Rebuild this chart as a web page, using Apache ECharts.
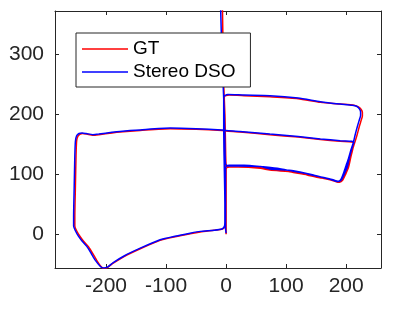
<!DOCTYPE html>
<html><head><meta charset="utf-8">
<script src="https://cdn.jsdelivr.net/npm/echarts@6/dist/echarts.min.js"></script>
<style>html,body{margin:0;padding:0;background:#fff}#c{width:399px;height:315px}</style>
</head><body><div id="c"></div>
<script>
var seriesNames = ['GT', 'Stereo DSO'];
var xTicks = [-200, -100, 0, 100, 200];
var yTicks = [0, 100, 200, 300];
var gtPath = [
[0,0],[0,10],[0,60],[0,108],[1,111],[5,112],[30,112],[57,111],[85,108],[112,103],[135,99],[151,95],[165,93],[176,90],[186,87],[191,88],
[194,92],[198,102],[202,114],[206,126],[210,140],[214,152],[218,165],[222,180],[225,190],[227,197],[227,203],[225,208],[221,212],[213,215],
[190,217],[157,220],[120,226],[73,229],[30,231],[5,232],[0,231],[-3,229],[-3,220],
[-3,200],[-3,175],[-2,110],[-1,50],[-1,20],[-2,13],
[-6,9],[-20,7],[-43,4],[-60,1],[-85,-4],[-110,-10],[-143,-24],[-170,-37],[-188,-48],[-196,-54],[-202,-57],[-207,-55],[-215,-44],[-222,-32],[-229,-21],[-237,-12],[-243,-4],[-249,6],[-252,14],
[-252,30],[-251,80],[-250,130],[-249,155],[-247,163],[-243,167],[-239,168],[-232,167],[-222,165],[-212,166],[-190,169],[-177,170.5],[-143,173],[-93,176],[-50,175],[-7,173],[0,172],[23,170.5],[73,166],[120,162],[157,158],[190,155],[209,154],
[213,152],[212,146],[208,130],[204,112],[199,100],[194,90],[189,87],
[178,90],[160,94],[145,98],[112,104],[73,107],[57,110],[20,112],[3,112],[0,115],
[-1,150],[-2,200],[-4,250],[-5,300],[-6,372],[-7,400]
];
var dsoPath = [
[0,2],[-1,10],[-1,60],[-1,110],[1,114],[5,115],[30,115],[57,113],[85,110],[112,105],[135,101],[151,97],[165,94],[176,91],[185,88],[189,89],
[192,93],[196,103],[200,115],[204,127],[208,141],[212,153],[215,166],[219,181],[222,191],[224,198],[224,204],[222,209],[218,213],[210,215],
[190,217],[157,221],[120,227],[73,231],[30,232],[3,233],[-2,231],[-4,228],[-4,220],
[-4,200],[-4,175],[-3,110],[-2,50],[-2,20],[-3,13],
[-7,9],[-20,7],[-43,5],[-60,2],[-85,-3],[-110,-9],[-143,-23],[-170,-36],[-188,-47],[-197,-54],[-204,-56],[-209,-54],[-218,-43],[-225,-31],[-232,-20],[-240,-11],[-246,-3],[-251,6],[-254,14],
[-254,30],[-253,80],[-252,130],[-251,155],[-249,164],[-245,168],[-240,169],[-233,168],[-222,166],[-212,167],[-190,170],[-177,171.5],[-143,174],[-93,177],[-50,176],[-7,174],[0,173],[23,171.5],[73,167],[120,163],[157,159],[190,156],[209,155],
[213,154],[211,148],[206,131],[202,113],[197,101],[192,91],[187,88],
[178,91],[160,95],[145,99],[112,106],[73,109],[57,113],[20,114],[3,114],[-1,117],
[-2,150],[-3,200],[-5,250],[-7,300],[-9,372],[-10,400]
];

var axisColor = '#262626';
var font = 'Liberation Sans, Arial, Helvetica, sans-serif';
function mkAxis(pos, min, max, ticks, showLabel) {
  return {
    type: 'value', position: pos, min: min, max: max,
    splitLine: {show: false},
    axisLine: {show: true, onZero: false, lineStyle: {color: axisColor, width: 1}},
    axisTick: {show: true, inside: true, length: 4, customValues: ticks, lineStyle: {color: axisColor, width: 1}},
    axisLabel: {show: showLabel, customValues: ticks, color: axisColor, fontSize: 21, fontFamily: font, margin: pos === 'bottom' || pos === 'top' ? 8 : 11}
  };
}
var chart = echarts.init(document.getElementById('c'), null, {renderer: 'canvas'});
chart.setOption({
  animation: false,
  backgroundColor: '#fff',
  grid: {left: 55, right: 18, top: 11, bottom: 47, containLabel: false},
  xAxis: [mkAxis('bottom', -285, 258, xTicks, true), mkAxis('top', -285, 258, xTicks, false)],
  yAxis: [mkAxis('left', -56, 372, yTicks, true), mkAxis('right', -56, 372, yTicks, false)],
  legend: {
    orient: 'vertical', left: 76, top: 33,
    data: seriesNames,
    icon: 'rect', itemWidth: 46, itemHeight: 1.5, itemGap: 3,
    backgroundColor: '#fff', borderColor: axisColor, borderWidth: 1, borderRadius: 0,
    padding: [6, 15, 5, 6],
    textStyle: {fontSize: 19, fontFamily: font, color: '#000', lineHeight: 20}
  },
  series: [
    {name: seriesNames[0], type: 'line', data: gtPath, showSymbol: false, symbol: 'none', smooth: 0.2, clip: true,
     lineStyle: {color: '#ff0000', width: 1.5}, itemStyle: {color: '#ff0000'}},
    {name: seriesNames[1], type: 'line', data: dsoPath, showSymbol: false, symbol: 'none', smooth: 0.2, clip: true,
     lineStyle: {color: '#0000ff', width: 1.5}, itemStyle: {color: '#0000ff'}}
  ]
});
</script></body></html>
